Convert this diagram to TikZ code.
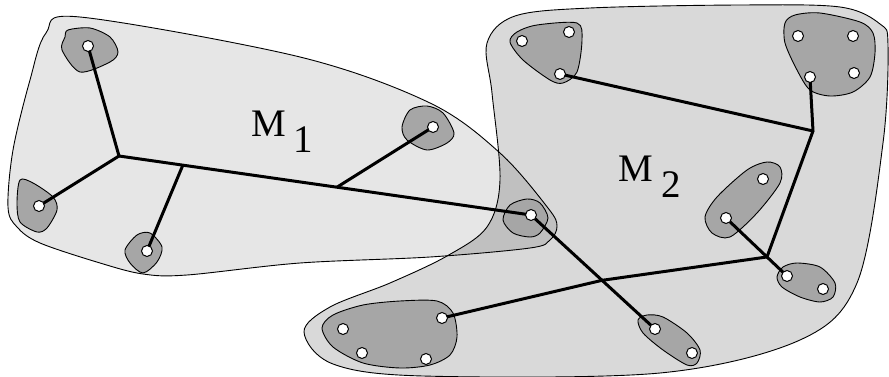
\documentclass[tikz,border=0pt]{standalone}
\usepackage{fontspec}
\setmainfont{Liberation Serif}
\usetikzlibrary{calc}
\pgfdeclarelayer{bg}
\pgfdeclarelayer{lines}
\pgfsetlayers{bg,lines,main}
\definecolor{regA}{RGB}{230,230,230}
\definecolor{regB}{RGB}{217,217,217}
\definecolor{regAB}{RGB}{192,192,192}
\definecolor{blobc}{RGB}{166,166,166}
\tikzset{
  dot/.style={circle,draw=black,fill=white,line width=1pt,inner sep=0pt,minimum size=11pt},
  conn/.style={line width=3pt,line join=miter},
  outline/.style={draw=black,line width=0.9pt},
  blob/.style={fill=blobc,draw=black,line width=0.9pt},
  lab/.style={font=\fontsize{39}{40}\selectfont,inner sep=0pt,anchor=base}
}
\def\pathMone{plot[smooth cycle,tension=0.55] coordinates {(80,17) (300,57) (430,103) (500,153) (548,208) (557,226) (550,240) (530,248) (430,257) (300,263) (187,275) (143,274) (100,263) (40,243) (17,227) (8,207) (13,150) (30,80) (46,33)}}
\def\pathMtwo{plot[smooth cycle,tension=0.55] coordinates {(590,8) (740,5) (840,7) (880,24) (888,45) (883,143) (857,283) (800,340) (660,373) (423,376) (333,364) (304,332) (330,307) (390,283) (447,256) (487,227) (500,180) (492,93) (487,43) (515,16)}}
\begin{document}
\begin{tikzpicture}[x=1pt,y=-1pt]
\useasboundingbox (0,0) rectangle (889,377);
\begin{pgfonlayer}{bg}
  \fill[regA] \pathMone;
  \fill[regB] \pathMtwo;
  \begin{scope}
    \clip \pathMone;
    \fill[regAB] \pathMtwo;
  \end{scope}
  \draw[outline] \pathMone;
  \draw[outline] \pathMtwo;
  % blobs
  \draw[blob] plot[smooth cycle] coordinates {(68,30) (90,28) (110,37) (118,52) (110,62) (80,72) (62,50) (65,37)};
  \draw[blob] plot[smooth cycle] coordinates {(20,180) (33,183) (53,197) (57,210) (47,228) (37,232) (20,222) (17,203)};
  \draw[blob] plot[smooth cycle] coordinates {(125,250) (137,235) (150,233) (162,247) (157,262) (143,273) (130,263)};
  \draw[blob] plot[smooth cycle] coordinates {(402,127) (410,110) (427,106) (443,113) (454,133) (447,143) (427,150) (407,140)};
  \draw[blob] plot[smooth cycle] coordinates {(503,220) (510,205) (527,199) (540,203) (548,218) (540,233) (530,237) (513,233)};
  \draw[blob] plot[smooth cycle] coordinates {(510,42) (517,32) (537,25) (577,23) (582,40) (577,72) (563,83) (550,80) (523,60)};
  \draw[blob] plot[smooth cycle] coordinates {(785,23) (795,15) (820,13) (860,22) (873,33) (875,53) (870,77) (853,92) (830,96) (810,90) (797,70) (785,43)};
  \draw[blob] plot[smooth cycle] coordinates {(705,217) (717,197) (747,170) (767,162) (780,167) (780,183) (757,213) (730,237) (712,233)};
  \draw[blob] plot[smooth cycle] coordinates {(777,277) (783,267) (797,263) (820,267) (835,283) (833,297) (820,302) (800,297) (782,287)};
  \draw[blob] plot[smooth cycle] coordinates {(638,320) (647,315) (663,317) (687,333) (700,350) (697,363) (687,365) (663,350) (643,333)};
  \draw[blob] plot[smooth cycle] coordinates {(322,328) (333,315) (363,305) (400,301) (437,301) (453,313) (457,337) (450,355) (430,365) (400,368) (363,363) (333,347)};
\end{pgfonlayer}
% dots
\node[dot] (a1) at (88,46) {};
\node[dot] (a2) at (39,206) {};
\node[dot] (a3) at (147,251) {};
\node[dot] (a4) at (433,127) {};
\node[dot] (a5) at (531,215) {};
\node[dot] (b1) at (522,41) {};
\node[dot] (b2) at (569,32) {};
\node[dot] (b3) at (560,74) {};
\node[dot] (c1) at (798,36) {};
\node[dot] (c2) at (853,36) {};
\node[dot] (c3) at (810,77) {};
\node[dot] (c4) at (854,73) {};
\node[dot] (d1) at (763,179) {};
\node[dot] (d2) at (726,218) {};
\node[dot] (e1) at (787,276) {};
\node[dot] (e2) at (823,289) {};
\node[dot] (f1) at (655,329) {};
\node[dot] (f2) at (692,353) {};
\node[dot] (g1) at (343,329) {};
\node[dot] (g2) at (362,353) {};
\node[dot] (g3) at (426,359) {};
\node[dot] (g4) at (442,318) {};
% junctions
\coordinate (J1) at (119,156);
\coordinate (K1) at ($(J1)!0.155!(a5.center)$);
\coordinate (K2) at ($(J1)!0.529!(a5.center)$);
\coordinate (X) at ($(a5.center)!0.573!(f1.center)$);
\coordinate (J2) at ($(d2.center)!0.672!(e1.center)$);
\coordinate (J3) at (813,131);
\begin{pgfonlayer}{lines}
  \draw[conn] (a1.center) -- (J1) -- (a2.center);
  \draw[conn] (J1) -- (a5.center) -- (f1.center);
  \draw[conn] (K1) -- (a3.center);
  \draw[conn] (K2) -- (a4.center);
  \draw[conn] (g4.center) -- (X) -- (J2) -- (J3) -- (c3.center);
  \draw[conn] (J3) -- (b3.center);
  \draw[conn] (d2.center) -- (e1.center);
\end{pgfonlayer}
% labels
\node[lab] (m1) at (268.5,137) {M};
\node[lab] (s1) at (303,153) {1};
\node[lab] (m2) at (636,182) {M};
\node[lab] (s2) at (671,197) {2};
\end{tikzpicture}
\end{document}
